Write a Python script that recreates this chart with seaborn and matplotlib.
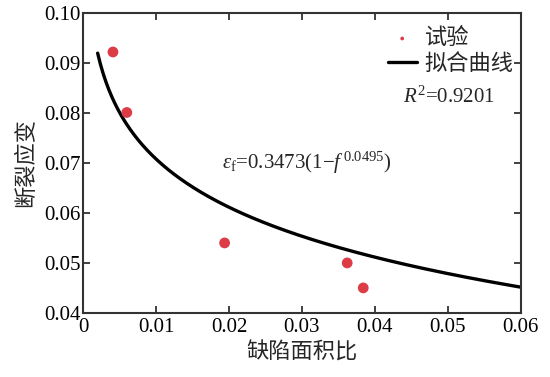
import numpy as np
import pandas as pd
import matplotlib
matplotlib.use("Agg")
import matplotlib.pyplot as plt
import seaborn as sns

defect_ratio = [0.0041, 0.0060, 0.0194, 0.0362, 0.0384]
fracture_strain = [0.0922, 0.0801, 0.0540, 0.0500, 0.0450]

# fitted model parameters shown on the chart
fit_a = 0.3473
fit_b = 0.0495
fit_x_start = 0.002
fit_x_end = 0.06
r_squared = "0.9201"

x_ticks = [0, 0.01, 0.02, 0.03, 0.04, 0.05, 0.06]
x_tick_labels = ["0", "0.01", "0.02", "0.03", "0.04", "0.05", "0.06"]
y_ticks = [0.04, 0.05, 0.06, 0.07, 0.08, 0.09, 0.10]
y_tick_labels = ["0.04", "0.05", "0.06", "0.07", "0.08", "0.09", "0.10"]

sns.set_style("ticks")
plt.rcParams['font.family'] = ['Liberation Serif', 'Noto Sans CJK SC', 'DejaVu Sans']
plt.rcParams['mathtext.fontset'] = 'custom'
plt.rcParams['mathtext.rm'] = 'Liberation Serif'
plt.rcParams['mathtext.it'] = 'Liberation Serif:italic'

fig = plt.figure(figsize=(5.5, 3.77), dpi=100)
ax = fig.add_axes([0.151, 0.170, 0.796, 0.7955])

fx = np.linspace(fit_x_start, fit_x_end, 300)
fy = fit_a * (1 - fx ** fit_b)
df_fit = pd.DataFrame({"x": fx, "y": fy})
df_exp = pd.DataFrame({"x": defect_ratio, "y": fracture_strain})

sns.lineplot(data=df_fit, x="x", y="y", ax=ax, color="black", linewidth=2.4,
             label="拟合曲线", zorder=2)
sns.scatterplot(data=df_exp, x="x", y="y", ax=ax, color="#dc3c46", s=60,
                edgecolor="none", label="试验", zorder=3)

ax.set_xlim(0, 0.06)
ax.set_ylim(0.04, 0.10)
ax.set_xticks(x_ticks)
ax.set_xticklabels(x_tick_labels)
ax.set_yticks(y_ticks)
ax.set_yticklabels(y_tick_labels)
ax.tick_params(direction="in", length=5, width=1.3, labelsize=15, colors="#333333",
               top=True, right=True, labelcolor="black", pad=2)
ax.tick_params(axis="x", pad=4)
for s in ax.spines.values():
    s.set_visible(True)
    s.set_linewidth(1.5)
    s.set_color("#333333")

ax.set_xlabel("缺陷面积比", family=['Noto Sans CJK SC'], fontsize=16, labelpad=2)
ax.set_ylabel("断裂应变", family=['Noto Sans CJK SC'], fontsize=16, labelpad=5)

h, l = ax.get_legend_handles_labels()
order = [l.index("试验"), l.index("拟合曲线")]
leg = ax.legend([h[i] for i in order], [l[i] for i in order], loc="upper right",
                frameon=False, prop={'family': 'Noto Sans CJK SC', 'size': 16},
                handlelength=1.3, handletextpad=0.36, labelspacing=0.1,
                borderaxespad=0.2, markerscale=0.35, bbox_to_anchor=(1.014, 1.0))

ax.text(0.0438, 0.0832, r"$R^2$=" + r_squared, fontsize=15, va="center")
ax.text(0.0190, 0.0700,
        r"$ε_{\mathrm{f}}$=%.4f(1$-$$f^{\,%.4f}$)" % (fit_a, fit_b),
        fontsize=15, va="center")

fig.savefig("out.png", dpi=100)
